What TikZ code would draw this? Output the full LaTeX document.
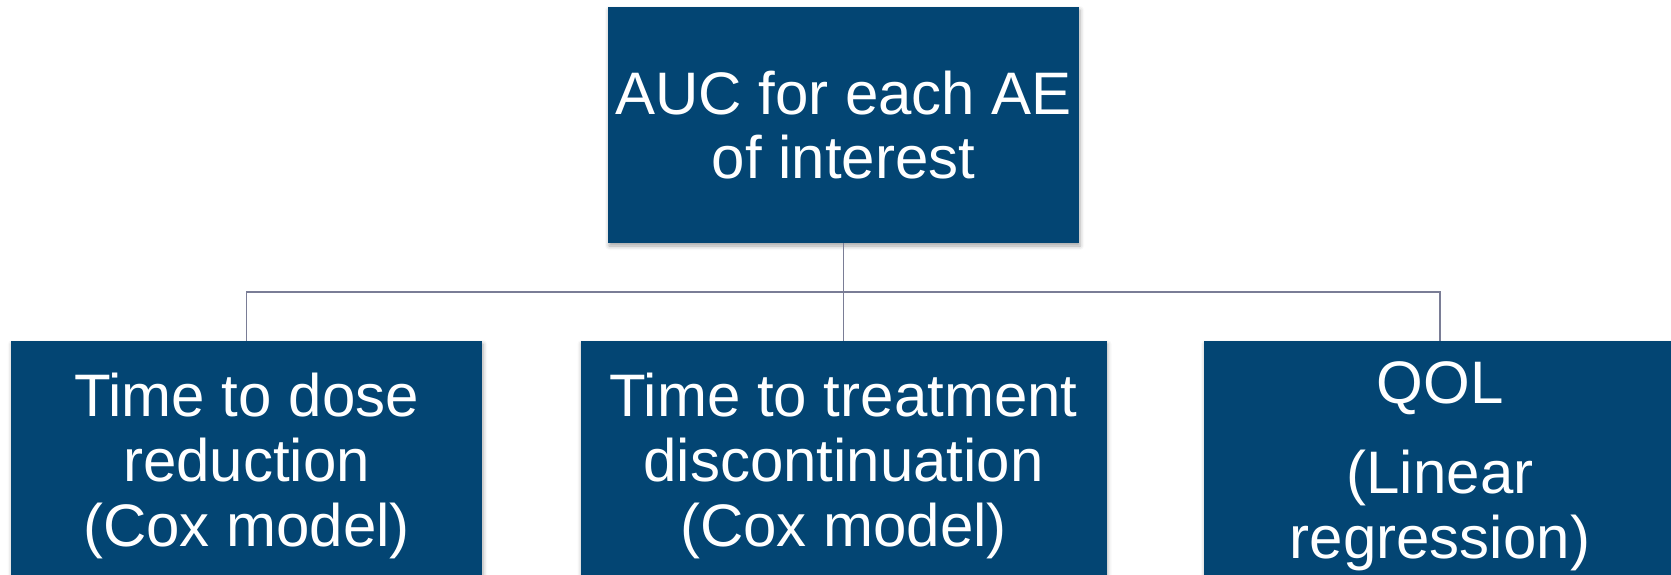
\documentclass[tikz,border=0pt]{standalone}
\usepackage{fontspec}
\setmainfont{Liberation Sans}
\usetikzlibrary{shadows.blur}
\definecolor{boxblue}{RGB}{3,69,115}
\definecolor{linkgray}{RGB}{122,125,150}
\begin{document}
\begin{tikzpicture}[x=1pt,y=1pt,
  box/.style={rectangle, fill=boxblue, text=white, align=center, inner sep=0pt,
    font=\fontsize{60}{65}\selectfont,
    blur shadow={shadow xshift=1pt, shadow yshift=-3pt, shadow blur radius=4pt, shadow opacity=35}},
  conn/.style={draw=linkgray, line width=1.6pt}]
\useasboundingbox (0,0) rectangle (1671,-575);
% top node
\node[box, minimum width=471pt, minimum height=236pt, font=\fontsize{60}{64}\selectfont]
  (auc) at (843.5,-125) {AUC for each AE\\of interest};
% outcome nodes (run past the lower edge)
\node[box, minimum width=471pt, minimum height=250pt] (dose) at (246.5,-466)
  {Time to dose\\reduction\\(Cox model)};
\node[box, minimum width=526pt, minimum height=250pt] (disc) at (843.5,-466)
  {Time to treatment\\discontinuation\\(Cox model)};
\node[box, minimum width=472pt, minimum height=250pt] (qol) at (1440,-466)
  {QOL\\[25pt](Linear\\regression)};
% connectors
\coordinate (bus) at (843.5,-292);
\draw[conn] (auc.south) -- (disc.north);
\draw[conn] (dose.north) |- (bus) -| (qol.north);
\end{tikzpicture}
\end{document}
